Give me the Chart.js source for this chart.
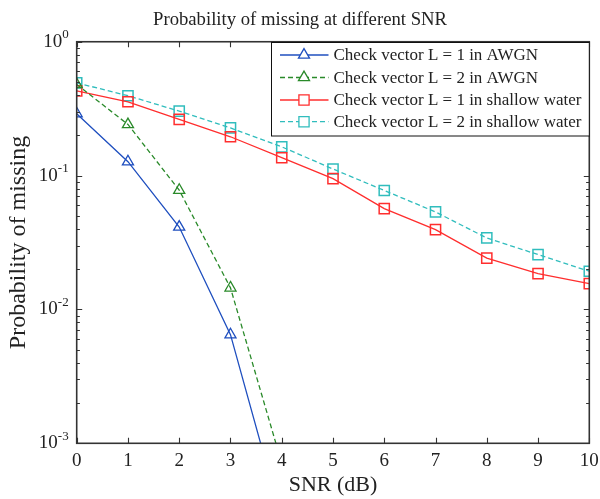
<!DOCTYPE html>
<html>
<head>
<meta charset="utf-8">
<script src="https://cdn.jsdelivr.net/npm/chart.js@4/dist/chart.umd.min.js"></script>
<style>
  html, body { margin: 0; padding: 0; background: #fff; }
  #wrap { width: 600px; height: 499px; position: relative; }
</style>
</head>
<body>
<div id="wrap"><canvas id="c" width="600" height="499"></canvas></div>
<script>
// ---- data ----
const snr = [0, 1, 2, 3, 4, 5, 6, 7, 8, 9, 10];
const snrAwgn = [0, 1, 2, 3, 4];
const awgnL1 = [0.29, 0.127, 0.0413, 0.00648, 0.00027];
const awgnL2 = [0.48, 0.241, 0.0778, 0.0145, 0.00071];
const shallowL1 = [0.43, 0.356, 0.263, 0.195, 0.136, 0.095, 0.0567, 0.0395, 0.0242, 0.0185, 0.0156];
const shallowL2 = [0.493, 0.395, 0.303, 0.227, 0.164, 0.112, 0.0774, 0.0535, 0.0342, 0.0257, 0.0193];
const seriesLabels = [
  'Check vector L = 1 in AWGN',
  'Check vector L = 2 in AWGN',
  'Check vector L = 1 in shallow water',
  'Check vector L = 2 in shallow water'
];
const xTicks = [0, 1, 2, 3, 4, 5, 6, 7, 8, 9, 10];
const yMin = 0.001, yMax = 1;

const FONT = "'Liberation Serif', 'Times New Roman', serif";
const TXT = '#222';
const AX = '#333';

const pts = (xs, ys) => ys.map((v, i) => ({ x: xs[i], y: v }));

function isPow10(v) {
  const l = Math.log10(v);
  return Math.abs(l - Math.round(l)) < 1e-9;
}
function isIntMantissa(v) {
  const e = Math.floor(Math.log10(v) + 1e-9);
  const m = v / Math.pow(10, e);
  return Math.abs(m - Math.round(m)) < 1e-6;
}

const framePlugin = {
  id: 'frame',
  afterDatasetsDraw(chart) {
    const { ctx, chartArea: a, scales: { x, y } } = chart;
    ctx.save();
    // inward ticks
    ctx.strokeStyle = AX;
    ctx.lineWidth = 1.1;
    ctx.beginPath();
    x.ticks.forEach(t => {
      const px = Math.round(x.getPixelForValue(t.value)) + 0.5;
      ctx.moveTo(px, a.bottom); ctx.lineTo(px, a.bottom - 5.5);
      ctx.moveTo(px, a.top); ctx.lineTo(px, a.top + 5.5);
    });
    y.ticks.forEach(t => {
      if (!isIntMantissa(t.value)) return;
      const py = Math.round(y.getPixelForValue(t.value)) + 0.5;
      const L = isPow10(t.value) ? 5.5 : 3.2;
      ctx.moveTo(a.left, py); ctx.lineTo(a.left + L, py);
      ctx.moveTo(a.right, py); ctx.lineTo(a.right - L, py);
    });
    ctx.stroke();
    // box
    ctx.lineWidth = 1.6;
    ctx.strokeRect(a.left, a.top, a.right - a.left, a.bottom - a.top);

    // y tick labels with superscript exponent
    ctx.fillStyle = TXT;
    ctx.textBaseline = 'middle';
    y.ticks.forEach(t => {
      if (!isPow10(t.value)) return;
      const py = y.getPixelForValue(t.value);
      const exp = String(Math.round(Math.log10(t.value)));
      ctx.font = '13px ' + FONT;
      const ew = ctx.measureText(exp).width;
      const right = a.left - 8;
      ctx.textAlign = 'right';
      ctx.fillText(exp, right, py - 6.8);
      ctx.font = '19px ' + FONT;
      ctx.fillText('10', right - ew, py);
    });

    // legend
    const lx0 = 271.5, ly0 = 42.5, lx1 = a.right, ly1 = 136;
    ctx.fillStyle = '#fff';
    ctx.fillRect(lx0, ly0, lx1 - lx0, ly1 - ly0);
    ctx.strokeStyle = '#111';
    ctx.lineWidth = 1;
    ctx.strokeRect(lx0, ly0, lx1 - lx0, ly1 - ly0);
    const rowY = [55, 77.5, 100, 121.7];
    chart.data.datasets.forEach((ds, i) => {
      const yy = rowY[i];
      ctx.strokeStyle = ds.borderColor;
      ctx.lineWidth = ds.borderWidth;
      ctx.setLineDash(ds.borderDash || []);
      ctx.beginPath();
      ctx.moveTo(280, yy); ctx.lineTo(328.5, yy);
      ctx.stroke();
      ctx.setLineDash([]);
      ctx.fillStyle = '#fff';
      Chart.helpers.drawPoint(ctx, {
        pointStyle: ds.pointStyle, radius: ds.pointRadius, borderWidth: ds.pointBorderWidth
      }, 304, yy);
      ctx.fillStyle = TXT;
      ctx.font = '17px ' + FONT;
      ctx.textAlign = 'left';
      ctx.textBaseline = 'middle';
      ctx.fillText(ds.label, 333.5, yy + 1);
    });
    ctx.restore();
  }
};

const colors = ['#1f4fbf', '#2a8a2a', '#ff2e2e', '#30bdbd'];

new Chart(document.getElementById('c'), {
  type: 'line',
  data: {
    datasets: [
      { label: seriesLabels[0], data: pts(snrAwgn, awgnL1), borderColor: colors[0], borderWidth: 1.3,
        pointStyle: 'triangle', pointRadius: 6.4, pointBorderWidth: 1.3, pointBackgroundColor: 'rgba(0,0,0,0)', pointBorderColor: colors[0] },
      { label: seriesLabels[1], data: pts(snrAwgn, awgnL2), borderColor: colors[1], borderWidth: 1.3, borderDash: [5, 3],
        pointStyle: 'triangle', pointRadius: 6.4, pointBorderWidth: 1.3, pointBackgroundColor: 'rgba(0,0,0,0)', pointBorderColor: colors[1] },
      { label: seriesLabels[2], data: pts(snr, shallowL1), borderColor: colors[2], borderWidth: 1.3,
        pointStyle: 'rect', pointRadius: 7.2, pointBorderWidth: 1.5, pointBackgroundColor: 'rgba(0,0,0,0)', pointBorderColor: colors[2] },
      { label: seriesLabels[3], data: pts(snr, shallowL2), borderColor: colors[3], borderWidth: 1.3, borderDash: [5, 3],
        pointStyle: 'rect', pointRadius: 7.2, pointBorderWidth: 1.5, pointBackgroundColor: 'rgba(0,0,0,0)', pointBorderColor: colors[3] }
    ]
  },
  options: {
    responsive: false,
    animation: false,
    devicePixelRatio: 1,
    layout: { padding: { left: 0, right: 0, top: 0, bottom: 0 } },
    elements: { line: { tension: 0 } },
    plugins: {
      legend: { display: false },
      tooltip: { enabled: false },
      title: {
        display: true,
        text: 'Probability of missing at different SNR',
        color: TXT,
        font: { family: FONT, size: 18.7, weight: 'normal' },
        padding: { top: 9, bottom: 10.3 }
      }
    },
    scales: {
      x: {
        type: 'linear',
        min: 0, max: 10,
        afterBuildTicks: s => { s.ticks = xTicks.map(v => ({ value: v })); },
        afterFit: s => { s.height = 55.7; s.paddingLeft = 0; s.paddingRight = 10.7; },
        grid: { display: false, drawTicks: false },
        border: { display: false },
        ticks: { color: TXT, font: { family: FONT, size: 19 }, padding: 6, maxRotation: 0, autoSkip: false },
        title: { display: true, text: 'SNR (dB)', color: TXT, font: { family: FONT, size: 22 }, padding: { top: 0, bottom: 1 } }
      },
      y: {
        type: 'logarithmic',
        min: yMin, max: yMax,
        afterFit: s => { s.width = 76.7; s.paddingTop = 0; s.paddingBottom = 0; },
        grid: { display: false, drawTicks: false },
        border: { display: false },
        ticks: { display: false, autoSkip: false },
        title: { display: true, text: 'Probability of missing', color: TXT, font: { family: FONT, size: 24 }, padding: { top: 4, bottom: 0 } }
      }
    }
  },
  plugins: [framePlugin]
});
</script>
</body>
</html>
